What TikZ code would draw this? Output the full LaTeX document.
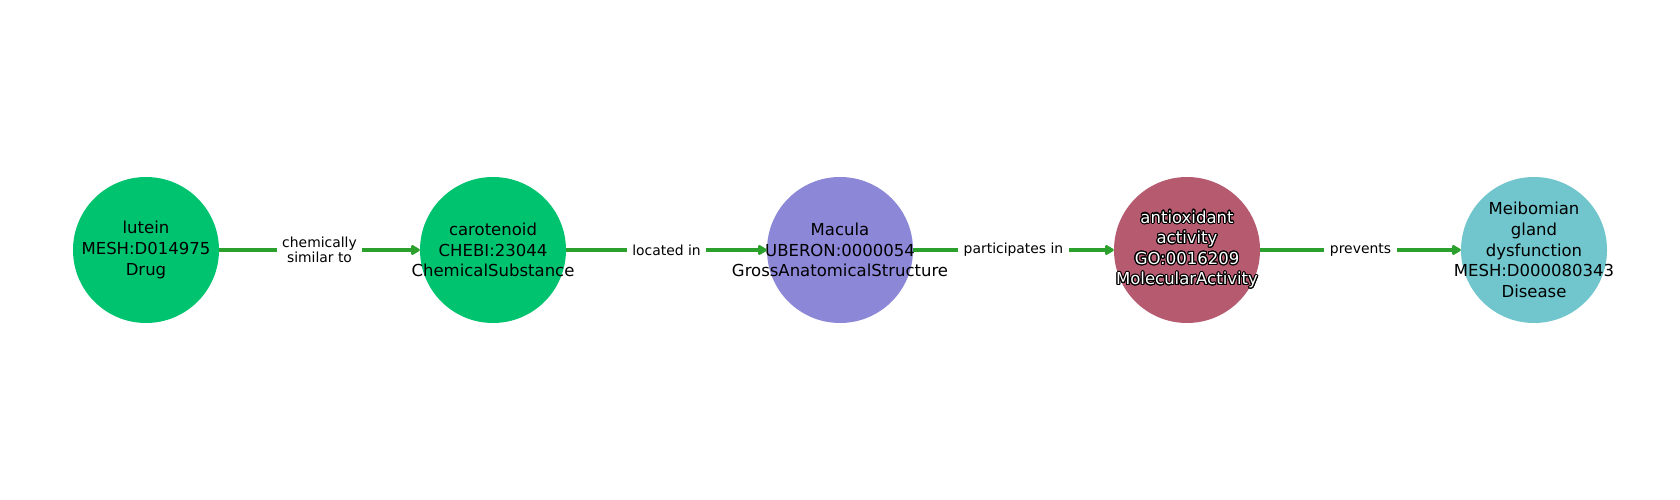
\documentclass[tikz,border=0pt]{standalone}
\usepackage{fontspec}
\setmainfont{DejaVu Sans}
\usepackage[copies]{contour}
\contourlength{1.1pt}
\usetikzlibrary{arrows.meta}
\definecolor{drugc}{RGB}{0,195,112}
\definecolor{anatc}{RGB}{141,135,216}
\definecolor{molc}{RGB}{182,90,112}
\definecolor{disc}{RGB}{112,198,204}
\definecolor{edgec}{RGB}{44,160,44}
\begin{document}
\begin{tikzpicture}[x=1pt,y=1pt,
  entity/.style={circle, minimum size=146pt, inner sep=0pt, draw=none},
  etext/.style={font=\fontsize{16.5}{20.6}\selectfont, align=center, text=black, inner sep=0pt},
  rel/.style={draw=edgec, line width=3.4pt, -{Triangle[length=10pt,width=11pt,round]}},
  rlabel/.style={fill=white, font=\fontsize{13.9}{15.5}\selectfont, align=center, inner sep=5.5pt, text=black}]
\useasboundingbox (0,0) rectangle (1680,500);
\fill[white] (0,0) rectangle (1680,500);
% entities
\node[entity, fill=drugc] (n1) at (146,250) {};
\node[entity, fill=drugc] (n2) at (493,250) {};
\node[entity, fill=anatc] (n3) at (840,250) {};
\node[entity, fill=molc]  (n4) at (1187,250) {};
\node[entity, fill=disc]  (n5) at (1534,250) {};
% texts
\node[etext] (t1) at (n1.center) {lutein\\MESH:D014975\\Drug};
\node[etext] (t2) at (n2.center) {carotenoid\\CHEBI:23044\\ChemicalSubstance};
\node[etext] (t3) at (n3.center) {Macula\\UBERON:0000054\\GrossAnatomicalStructure};
\node[etext, text=white] (t4) at (n4.center) {\contour{black}{antioxidant}\\\contour{black}{activity}\\\contour{black}{GO:0016209}\\\contour{black}{MolecularActivity}};
\node[etext] (t5) at (n5.center) {Meibomian\\gland\\dysfunction\\MESH:D000080343\\Disease};
% relations
\draw[rel] (n1) -- node[rlabel] (l1) {chemically\\similar to} (n2);
\draw[rel] (n2) -- node[rlabel] (l2) {located in} (n3);
\draw[rel] (n3) -- node[rlabel] (l3) {participates in} (n4);
\draw[rel] (n4) -- node[rlabel] (l4) {prevents} (n5);
\end{tikzpicture}
\end{document}
